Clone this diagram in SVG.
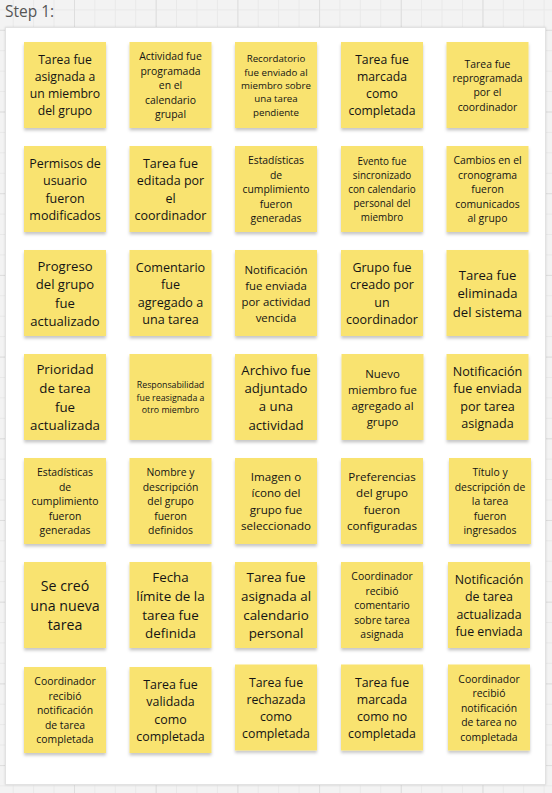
<svg xmlns="http://www.w3.org/2000/svg" width="552" height="793" viewBox="0 0 552 793">
<style>
.note rect{fill:#f9e370;filter:url(#sh)}
text{font-family:"Open Sans","Noto Sans","DejaVu Sans",sans-serif;fill:#141414;text-anchor:middle}
.title{text-anchor:start;fill:#555;font-size:15.5px}
</style>
<defs>
<pattern id="minor" patternUnits="userSpaceOnUse" x="12.7" y="9.4" width="20.42" height="20.42">
<path d="M0.5 0V20.42M0 0.5H20.42" stroke="#e9e9e9" stroke-width="1" fill="none"/>
</pattern>
<pattern id="major" patternUnits="userSpaceOnUse" x="74" y="29.8" width="81.7" height="81.7">
<path d="M0.5 0V81.7M0 0.5H81.7" stroke="#dedede" stroke-width="1" fill="none"/>
</pattern>
<filter id="sh" x="-10%" y="-10%" width="120%" height="130%">
<feDropShadow dx="0" dy="2.5" stdDeviation="1.8" flood-color="#000" flood-opacity="0.22"/>
</filter>
<filter id="fsh" x="-5%" y="-5%" width="110%" height="110%">
<feDropShadow dx="0" dy="0" stdDeviation="1" flood-color="#000" flood-opacity="0.12"/>
</filter>
</defs>
<rect width="552" height="793" fill="#f3f3f3"/>
<rect width="552" height="793" fill="url(#minor)"/>
<rect width="552" height="793" fill="url(#major)"/>
<text class="title" x="5" y="17">Step 1:</text>
<rect x="5.5" y="27.5" width="540" height="757" fill="#fff" stroke="#e2e2e2" filter="url(#fsh)"/>

<g id="r1n1" class="note"><rect x="24" y="42" width="82" height="86"/>
<text font-size="12.2"><tspan x="65" y="64.3">Tarea fue</tspan><tspan x="65" dy="17">asignada a</tspan><tspan x="65" dy="17">un miembro</tspan><tspan x="65" dy="17">del grupo</tspan></text></g>
<g id="r1n2" class="note"><rect x="129.5" y="42" width="82" height="86"/>
<text font-size="10.4"><tspan x="170.5" y="60.4">Actividad fue</tspan><tspan x="170.5" dy="14.4">programada</tspan><tspan x="170.5" dy="14.4">en el</tspan><tspan x="170.5" dy="14.4">calendario</tspan><tspan x="170.5" dy="14.4">grupal</tspan></text></g>
<g id="r1n3" class="note"><rect x="235" y="42" width="82" height="86"/>
<text font-size="9.7"><tspan x="276" y="62.1">Recordatorio</tspan><tspan x="276" dy="13.4">fue enviado al</tspan><tspan x="276" dy="13.4">miembro sobre</tspan><tspan x="276" dy="13.4">una tarea</tspan><tspan x="276" dy="13.4">pendiente</tspan></text></g>
<g id="r1n4" class="note"><rect x="341" y="42" width="82" height="86"/>
<text font-size="12.2"><tspan x="382" y="64.3">Tarea fue</tspan><tspan x="382" dy="17">marcada</tspan><tspan x="382" dy="17">como</tspan><tspan x="382" dy="17">completada</tspan></text></g>
<g id="r1n5" class="note"><rect x="446.5" y="42" width="82" height="86"/>
<text font-size="10.4"><tspan x="487.5" y="67.6">Tarea fue</tspan><tspan x="487.5" dy="14.4">reprogramada</tspan><tspan x="487.5" dy="14.4">por el</tspan><tspan x="487.5" dy="14.4">coordinador</tspan></text></g>

<g id="r2n1" class="note"><rect x="24" y="146" width="82" height="86"/>
<text font-size="12.5"><tspan x="65" y="167.8">Permisos de</tspan><tspan x="65" dy="17.4">usuario</tspan><tspan x="65" dy="17.4">fueron</tspan><tspan x="65" dy="17.4">modificados</tspan></text></g>
<g id="r2n2" class="note"><rect x="129.5" y="146" width="82" height="86"/>
<text font-size="12.5"><tspan x="170.5" y="167.8">Tarea fue</tspan><tspan x="170.5" dy="17.4">editada por</tspan><tspan x="170.5" dy="17.4">el</tspan><tspan x="170.5" dy="17.4">coordinador</tspan></text></g>
<g id="r2n3" class="note"><rect x="235" y="146" width="82" height="86"/>
<text font-size="10.4"><tspan x="276" y="164.4">Estadísticas</tspan><tspan x="276" dy="14.4">de</tspan><tspan x="276" dy="14.4">cumplimiento</tspan><tspan x="276" dy="14.4">fueron</tspan><tspan x="276" dy="14.4">generadas</tspan></text></g>
<g id="r2n4" class="note"><rect x="341" y="146" width="82" height="86"/>
<text font-size="9.9"><tspan x="382" y="165.4">Evento fue</tspan><tspan x="382" dy="13.8">sincronizado</tspan><tspan x="382" dy="13.8">con calendario</tspan><tspan x="382" dy="13.8">personal del</tspan><tspan x="382" dy="13.8">miembro</tspan></text></g>
<g id="r2n5" class="note"><rect x="446.5" y="146" width="82" height="86"/>
<text font-size="10.4"><tspan x="487.5" y="164.4">Cambios en el</tspan><tspan x="487.5" dy="14.4">cronograma</tspan><tspan x="487.5" dy="14.4">fueron</tspan><tspan x="487.5" dy="14.4">comunicados</tspan><tspan x="487.5" dy="14.4">al grupo</tspan></text></g>

<g id="r3n1" class="note"><rect x="24" y="250" width="82" height="86"/>
<text font-size="13.1"><tspan x="65" y="270.5">Progreso</tspan><tspan x="65" dy="18.5">del grupo</tspan><tspan x="65" dy="18.5">fue</tspan><tspan x="65" dy="18.5">actualizado</tspan></text></g>
<g id="r3n2" class="note"><rect x="129.5" y="250" width="82" height="86"/>
<text font-size="12.6"><tspan x="170.5" y="271.5">Comentario</tspan><tspan x="170.5" dy="17.6">fue</tspan><tspan x="170.5" dy="17.6">agregado a</tspan><tspan x="170.5" dy="17.6">una tarea</tspan></text></g>
<g id="r3n3" class="note"><rect x="235" y="250" width="82" height="86"/>
<text font-size="11.4"><tspan x="276" y="273.5">Notificación</tspan><tspan x="276" dy="16">fue enviada</tspan><tspan x="276" dy="16">por actividad</tspan><tspan x="276" dy="16">vencida</tspan></text></g>
<g id="r3n4" class="note"><rect x="341" y="250" width="82" height="86"/>
<text font-size="12.5"><tspan x="382" y="271.8">Grupo fue</tspan><tspan x="382" dy="17.4">creado por</tspan><tspan x="382" dy="17.4">un</tspan><tspan x="382" dy="17.4">coordinador</tspan></text></g>
<g id="r3n5" class="note"><rect x="446.5" y="250" width="82" height="86"/>
<text font-size="13.1"><tspan x="487.5" y="279.7">Tarea fue</tspan><tspan x="487.5" dy="18.5">eliminada</tspan><tspan x="487.5" dy="18.5">del sistema</tspan></text></g>

<g id="r4n1" class="note"><rect x="24" y="354" width="82" height="86"/>
<text font-size="13.3"><tspan x="65" y="374">Prioridad</tspan><tspan x="65" dy="18.8">de tarea</tspan><tspan x="65" dy="18.8">fue</tspan><tspan x="65" dy="18.8">actualizada</tspan></text></g>
<g id="r4n2" class="note"><rect x="129.5" y="354" width="82" height="86"/>
<text font-size="8.8"><tspan x="170.5" y="388.3">Responsabilidad</tspan><tspan x="170.5" dy="12.3">fue reasignada a</tspan><tspan x="170.5" dy="12.3">otro miembro</tspan></text></g>
<g id="r4n3" class="note"><rect x="235" y="354" width="82" height="86"/>
<text font-size="13.2"><tspan x="276" y="374.5">Archivo fue</tspan><tspan x="276" dy="18.4">adjuntado</tspan><tspan x="276" dy="18.4">a una</tspan><tspan x="276" dy="18.4">actividad</tspan></text></g>
<g id="r4n4" class="note"><rect x="341.5" y="354" width="82" height="86"/>
<text font-size="11.4"><tspan x="382.5" y="377.5">Nuevo</tspan><tspan x="382.5" dy="16">miembro fue</tspan><tspan x="382.5" dy="16">agregado al</tspan><tspan x="382.5" dy="16">grupo</tspan></text></g>
<g id="r4n5" class="note"><rect x="446.5" y="354" width="82" height="86"/>
<text font-size="12.6"><tspan x="487.5" y="375.5">Notificación</tspan><tspan x="487.5" dy="17.6">fue enviada</tspan><tspan x="487.5" dy="17.6">por tarea</tspan><tspan x="487.5" dy="17.6">asignada</tspan></text></g>

<g id="r5n1" class="note"><rect x="24" y="458" width="82" height="86"/>
<text font-size="10.4"><tspan x="65" y="476.4">Estadísticas</tspan><tspan x="65" dy="14.4">de</tspan><tspan x="65" dy="14.4">cumplimiento</tspan><tspan x="65" dy="14.4">fueron</tspan><tspan x="65" dy="14.4">generadas</tspan></text></g>
<g id="r5n2" class="note"><rect x="129.5" y="458" width="82" height="86"/>
<text font-size="10.4"><tspan x="170.5" y="476.4">Nombre y</tspan><tspan x="170.5" dy="14.4">descripción</tspan><tspan x="170.5" dy="14.4">del grupo</tspan><tspan x="170.5" dy="14.4">fueron</tspan><tspan x="170.5" dy="14.4">definidos</tspan></text></g>
<g id="r5n3" class="note"><rect x="235" y="458" width="82" height="86"/>
<text font-size="11.6"><tspan x="276" y="481.2">Imagen o</tspan><tspan x="276" dy="16.2">ícono del</tspan><tspan x="276" dy="16.2">grupo fue</tspan><tspan x="276" dy="16.2">seleccionado</tspan></text></g>
<g id="r5n4" class="note"><rect x="341" y="458" width="82" height="86"/>
<text font-size="11.6"><tspan x="382" y="481.2">Preferencias</tspan><tspan x="382" dy="16.2">del grupo</tspan><tspan x="382" dy="16.2">fueron</tspan><tspan x="382" dy="16.2">configuradas</tspan></text></g>
<g id="r5n5" class="note"><rect x="449" y="458" width="82" height="86"/>
<text font-size="10.4"><tspan x="490" y="476.4">Título y</tspan><tspan x="490" dy="14.4">descripción de</tspan><tspan x="490" dy="14.4">la tarea</tspan><tspan x="490" dy="14.4">fueron</tspan><tspan x="490" dy="14.4">ingresados</tspan></text></g>

<g id="r6n1" class="note"><rect x="24" y="562" width="82" height="86"/>
<text font-size="14.2"><tspan x="65" y="590.6">Se creó</tspan><tspan x="65" dy="19.9">una nueva</tspan><tspan x="65" dy="19.9">tarea</tspan></text></g>
<g id="r6n2" class="note"><rect x="129.5" y="562" width="82" height="86"/>
<text font-size="13.4"><tspan x="170.5" y="582.2">Fecha</tspan><tspan x="170.5" dy="18.7">límite de la</tspan><tspan x="170.5" dy="18.7">tarea fue</tspan><tspan x="170.5" dy="18.7">definida</tspan></text></g>
<g id="r6n3" class="note"><rect x="235" y="562" width="82" height="86"/>
<text font-size="13.4"><tspan x="276" y="582.2">Tarea fue</tspan><tspan x="276" dy="18.7">asignada al</tspan><tspan x="276" dy="18.7">calendario</tspan><tspan x="276" dy="18.7">personal</tspan></text></g>
<g id="r6n4" class="note"><rect x="341" y="562" width="82" height="86"/>
<text font-size="10.4"><tspan x="382" y="580.2">Coordinador</tspan><tspan x="382" dy="14.5">recibió</tspan><tspan x="382" dy="14.5">comentario</tspan><tspan x="382" dy="14.5">sobre tarea</tspan><tspan x="382" dy="14.5">asignada</tspan></text></g>
<g id="r6n5" class="note"><rect x="448" y="562" width="82" height="86"/>
<text font-size="12.4"><tspan x="489" y="583.9">Notificación</tspan><tspan x="489" dy="17.3">de tarea</tspan><tspan x="489" dy="17.3">actualizada</tspan><tspan x="489" dy="17.3">fue enviada</tspan></text></g>

<g id="r7n1" class="note"><rect x="24" y="667" width="82" height="86"/>
<text font-size="10.4"><tspan x="65" y="685.4">Coordinador</tspan><tspan x="65" dy="14.4">recibió</tspan><tspan x="65" dy="14.4">notificación</tspan><tspan x="65" dy="14.4">de tarea</tspan><tspan x="65" dy="14.4">completada</tspan></text></g>
<g id="r7n2" class="note"><rect x="129.5" y="667" width="82" height="86"/>
<text font-size="12.4"><tspan x="170.5" y="688.9">Tarea fue</tspan><tspan x="170.5" dy="17.3">validada</tspan><tspan x="170.5" dy="17.3">como</tspan><tspan x="170.5" dy="17.3">completada</tspan></text></g>
<g id="r7n3" class="note"><rect x="235" y="664.5" width="82" height="86"/>
<text font-size="12.3"><tspan x="276" y="686.7">Tarea fue</tspan><tspan x="276" dy="17.1">rechazada</tspan><tspan x="276" dy="17.1">como</tspan><tspan x="276" dy="17.1">completada</tspan></text></g>
<g id="r7n4" class="note"><rect x="341" y="664.5" width="82" height="86"/>
<text font-size="12.3"><tspan x="382" y="686.7">Tarea fue</tspan><tspan x="382" dy="17.1">marcada</tspan><tspan x="382" dy="17.1">como no</tspan><tspan x="382" dy="17.1">completada</tspan></text></g>
<g id="r7n5" class="note"><rect x="448" y="664.5" width="82" height="86"/>
<text font-size="10.4"><tspan x="489" y="682.9">Coordinador</tspan><tspan x="489" dy="14.4">recibió</tspan><tspan x="489" dy="14.4">notificación</tspan><tspan x="489" dy="14.4">de tarea no</tspan><tspan x="489" dy="14.4">completada</tspan></text></g>
<g id="connectors"/>
</svg>
